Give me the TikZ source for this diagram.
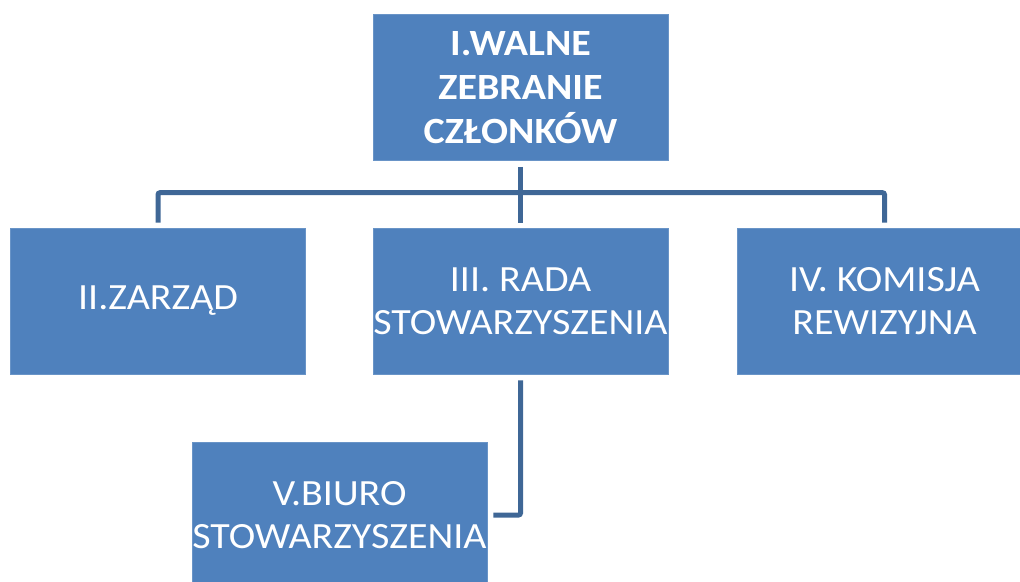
\documentclass[tikz,border=0pt]{standalone}
\usepackage{fontspec}
\setmainfont{Carlito}[FakeStretch=1.08]
\definecolor{boxblue}{HTML}{4F81BD}
\definecolor{lineblue}{HTML}{3F6796}
\begin{document}
\begin{tikzpicture}[x=1pt,y=-1pt,
  orgbox/.style={fill=boxblue,draw=boxblue!85!white,line width=0.6pt,text=white,minimum width=295pt,minimum height=146pt,inner sep=0pt,align=center,font=\fontsize{37}{43}\selectfont},
  conn/.style={draw=lineblue,line width=5pt,rounded corners=2pt}]
\useasboundingbox (0,0) rectangle (1020,581);
\clip (0,0) rectangle (1020,581);
\node[orgbox,font=\fontsize{37}{44}\selectfont\bfseries] (top) at (520.5,87.5) {I.WALNE\\ZEBRANIE\\CZŁONKÓW};
\node[orgbox] (zar) at (158,301) {II.ZARZĄD};
\node[orgbox] (rada) at (520.5,301) {III. RADA\\STOWARZYSZENIA};
\node[orgbox] (kom) at (884.5,301) {IV. KOMISJA\\REWIZYJNA};
\node[orgbox] (biuro) at (339.5,515) {V.BIURO\\STOWARZYSZENIA};
\draw[conn] ([yshift=5pt]zar.north) |- ([yshift=35pt]rada.north) -| ([yshift=5pt]kom.north);
\draw[conn] ([yshift=-6pt]top.south) -- ([yshift=5pt]rada.north);
\draw[conn] ([yshift=-6pt]rada.south) |- ([xshift=6pt]biuro.east);
\end{tikzpicture}
\end{document}
